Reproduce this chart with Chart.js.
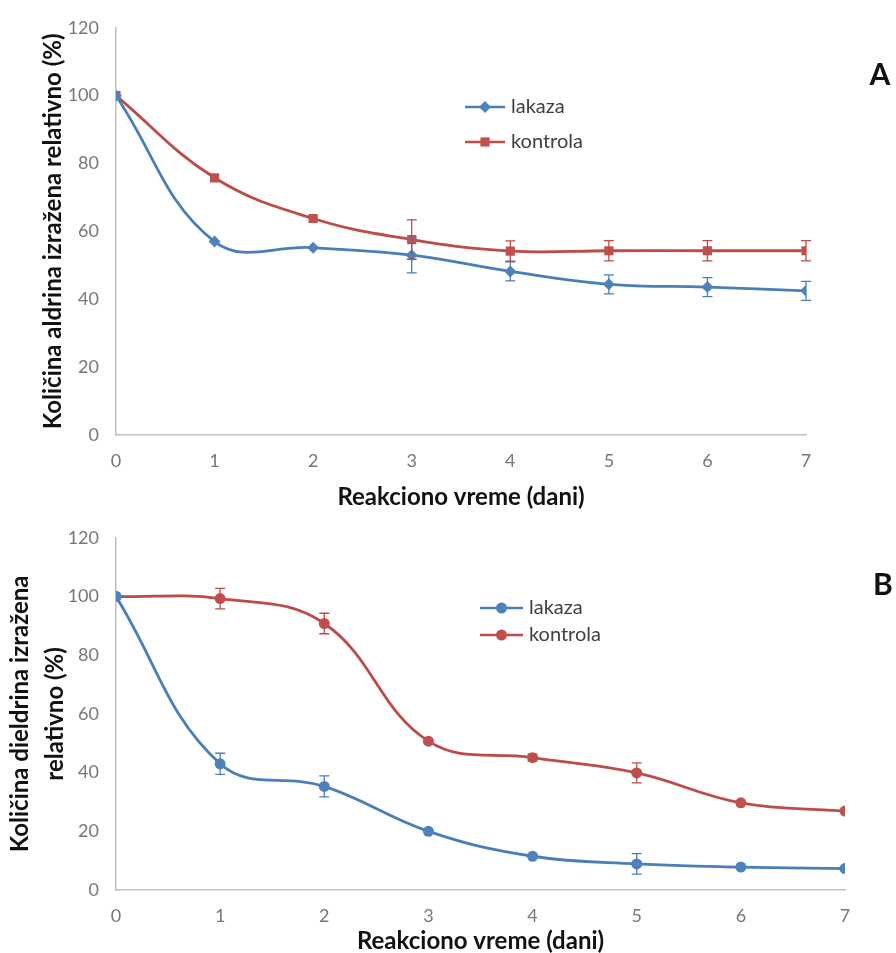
<!DOCTYPE html>
<html>
<head>
<meta charset="utf-8">
<script src="https://cdn.jsdelivr.net/npm/chart.js@4.4.1/dist/chart.umd.min.js"></script>
<style>
  body { margin: 0; background: #fff; }
  .panel { position: absolute; left: 0; width: 896px; }
  #panelA { top: 0; height: 510px; }
  #panelB { top: 510px; height: 443px; }
</style>
</head>
<body>
<div class="panel" id="panelA"><canvas id="chartA"></canvas></div>
<div class="panel" id="panelB"><canvas id="chartB"></canvas></div>
<script>
// days on the x axis
const days = [0, 1, 2, 3, 4, 5, 6, 7];
const yTicks = [0, 20, 40, 60, 80, 100, 120];

// panel A - aldrin
const aldrinLakaza = [100, 57, 55.2, 53, 48.2, 44.4, 43.6, 42.5];
const aldrinLakazaErr = [0, 0, 0, 5.2, 2.8, 2.8, 2.8, 2.8];
const aldrinKontrola = [100, 75.8, 63.8, 57.6, 54.2, 54.3, 54.3, 54.3];
const aldrinKontrolaErr = [0, 0, 0, 5.8, 3.0, 3.0, 3.0, 3.0];

// panel B - dieldrin
const dieldrinLakaza = [100, 43, 35.3, 20, 11.5, 8.9, 7.8, 7.3];
const dieldrinLakazaErr = [0, 3.6, 3.6, 0, 0, 3.5, 0, 0];
const dieldrinKontrola = [100, 99.3, 90.8, 50.7, 45.1, 39.9, 29.7, 26.9];
const dieldrinKontrolaErr = [0, 3.5, 3.5, 0, 1.2, 3.4, 0, 0];

const BLUE = '#4a7ebb', BLUE_FILL = '#4f81bd';
const RED = '#be4b48', RED_FILL = '#c0504d';
const FONT = 'Lato, "Open Sans", sans-serif';

function toPoints(ys) {
  return days.map((d, i) => ({ x: d, y: ys[i] }));
}

function drawMarker(ctx, style, x, y, r, color) {
  ctx.save();
  ctx.fillStyle = color;
  ctx.beginPath();
  if (style === 'rect') {
    const s = r * Math.SQRT1_2;
    ctx.rect(x - s, y - s, 2 * s, 2 * s);
  } else if (style === 'rectRot') {
    ctx.moveTo(x, y - r); ctx.lineTo(x + r, y); ctx.lineTo(x, y + r); ctx.lineTo(x - r, y);
    ctx.closePath();
  } else {
    ctx.arc(x, y, r, 0, Math.PI * 2);
  }
  ctx.fill();
  ctx.restore();
}

// error bars with caps
const errorBars = {
  id: 'errorBars',
  afterDatasetsDraw(chart) {
    const ctx = chart.ctx;
    const yScale = chart.scales.y;
    chart.data.datasets.forEach((ds, di) => {
      if (!ds.errors) return;
      const meta = chart.getDatasetMeta(di);
      ctx.save();
      ctx.strokeStyle = ds.borderColor;
      ctx.lineWidth = 1.3;
      meta.data.forEach((pt, i) => {
        const e = ds.errors[i];
        if (!e) return;
        const v = ds.data[i].y;
        const top = yScale.getPixelForValue(v + e);
        const bot = yScale.getPixelForValue(v - e);
        ctx.beginPath();
        ctx.moveTo(pt.x, top); ctx.lineTo(pt.x, bot);
        ctx.moveTo(pt.x - 5, top); ctx.lineTo(pt.x + 5, top);
        ctx.moveTo(pt.x - 5, bot); ctx.lineTo(pt.x + 5, bot);
        ctx.stroke();
      });
      ctx.restore();
    });
  }
};

// legend inside the plot + panel letter
const panelExtras = {
  id: 'panelExtras',
  afterDraw(chart, args, opts) {
    const ctx = chart.ctx;
    ctx.save();
    chart.data.datasets.forEach((ds, i) => {
      const y = opts.legendY + i * opts.rowGap;
      const x = opts.legendX;
      ctx.strokeStyle = ds.borderColor;
      ctx.lineWidth = 2.5;
      ctx.beginPath();
      ctx.moveTo(x, y); ctx.lineTo(x + opts.lineLen, y);
      ctx.stroke();
      drawMarker(ctx, ds.pointStyle, x + opts.lineLen / 2, y, ds.pointRadius, ds.pointBackgroundColor);
      ctx.fillStyle = '#404040';
      ctx.font = '20px ' + FONT;
      ctx.textBaseline = 'middle';
      ctx.textAlign = 'left';
      ctx.fillText(ds.label, x + opts.lineLen + 6, y);
    });
    ctx.fillStyle = '#111';
    ctx.font = 'bold 30px ' + FONT;
    ctx.textAlign = 'center';
    ctx.textBaseline = 'middle';
    ctx.fillText(opts.letter, opts.letterX, opts.letterY);
    ctx.restore();
  }
};

function makeChart(id, cfg) {
  return new Chart(document.getElementById(id), {
    type: 'line',
    data: {
      datasets: cfg.series.map(s => ({
        label: s.label,
        data: toPoints(s.values),
        errors: s.errors,
        borderColor: s.color,
        backgroundColor: s.fill,
        pointBackgroundColor: s.fill,
        pointBorderWidth: 0,
        pointStyle: s.pointStyle,
        pointRadius: s.radius,
        borderWidth: 2.8,
        tension: 0.4,
        fill: false
      }))
    },
    options: {
      responsive: true,
      maintainAspectRatio: false,
      animation: false,
      layout: { padding: cfg.padding },
      plugins: {
        legend: { display: false },
        tooltip: { enabled: false },
        panelExtras: cfg.extras
      },
      scales: {
        x: {
          type: 'linear', min: 0, max: 7,
          afterBuildTicks: s => { s.ticks = days.map(v => ({ value: v })); },
          afterFit: s => { s.height = cfg.xHeight; },
          grid: { display: false, drawTicks: false },
          border: { color: '#bfbfbf', width: 1.5 },
          ticks: { color: '#777', font: { family: FONT, size: 18 }, padding: 15 },
          title: {
            display: true, text: 'Reakciono vreme (dani)', color: '#111',
            font: { family: FONT, size: 24, weight: 'bold', lineHeight: 1 },
            padding: { top: 0, bottom: cfg.xTitlePad }
          }
        },
        y: {
          min: 0, max: 120,
          afterBuildTicks: s => { s.ticks = yTicks.map(v => ({ value: v })); },
          afterFit: s => { s.width = 116; },
          grid: { display: false, drawTicks: false },
          border: { color: '#bfbfbf', width: 1.5 },
          ticks: { color: '#777', font: { family: FONT, size: 18 }, padding: 17 },
          title: {
            display: true, text: cfg.yTitle, color: '#111',
            font: { family: FONT, size: 24, weight: 'bold', lineHeight: cfg.yTitleLH },
            padding: { top: cfg.yTitlePad, bottom: 0 }
          }
        }
      }
    },
    plugins: [errorBars, panelExtras]
  });
}

makeChart('chartA', {
  padding: { top: 17, right: 90, bottom: 0, left: 0 },
  xHeight: 75,
  xTitlePad: 1,
  yTitle: 'Količina aldrina izražena relativno (%)',
  yTitleLH: 1,
  yTitlePad: 41,
  extras: { legendX: 465, legendY: 107, rowGap: 35, lineLen: 40, letter: 'A', letterX: 880, letterY: 75 },
  series: [
    { label: 'lakaza', values: aldrinLakaza, errors: aldrinLakazaErr, color: BLUE, fill: BLUE_FILL, pointStyle: 'rectRot', radius: 6 },
    { label: 'kontrola', values: aldrinKontrola, errors: aldrinKontrolaErr, color: RED, fill: RED_FILL, pointStyle: 'rect', radius: 6.5 }
  ]
});

makeChart('chartB', {
  padding: { top: 25, right: 51, bottom: 0, left: 0 },
  xHeight: 63,
  xTitlePad: 0,
  yTitle: ['Količina dieldrina izražena', 'relativno (%)'],
  yTitleLH: 1.46,
  yTitlePad: 2.5,
  extras: { legendX: 480, legendY: 98, rowGap: 27, lineLen: 43, letter: 'B', letterX: 883, letterY: 75 },
  series: [
    { label: 'lakaza', values: dieldrinLakaza, errors: dieldrinLakazaErr, color: BLUE, fill: BLUE_FILL, pointStyle: 'circle', radius: 5.5 },
    { label: 'kontrola', values: dieldrinKontrola, errors: dieldrinKontrolaErr, color: RED, fill: RED_FILL, pointStyle: 'circle', radius: 5.5 }
  ]
});
</script>
</body>
</html>
